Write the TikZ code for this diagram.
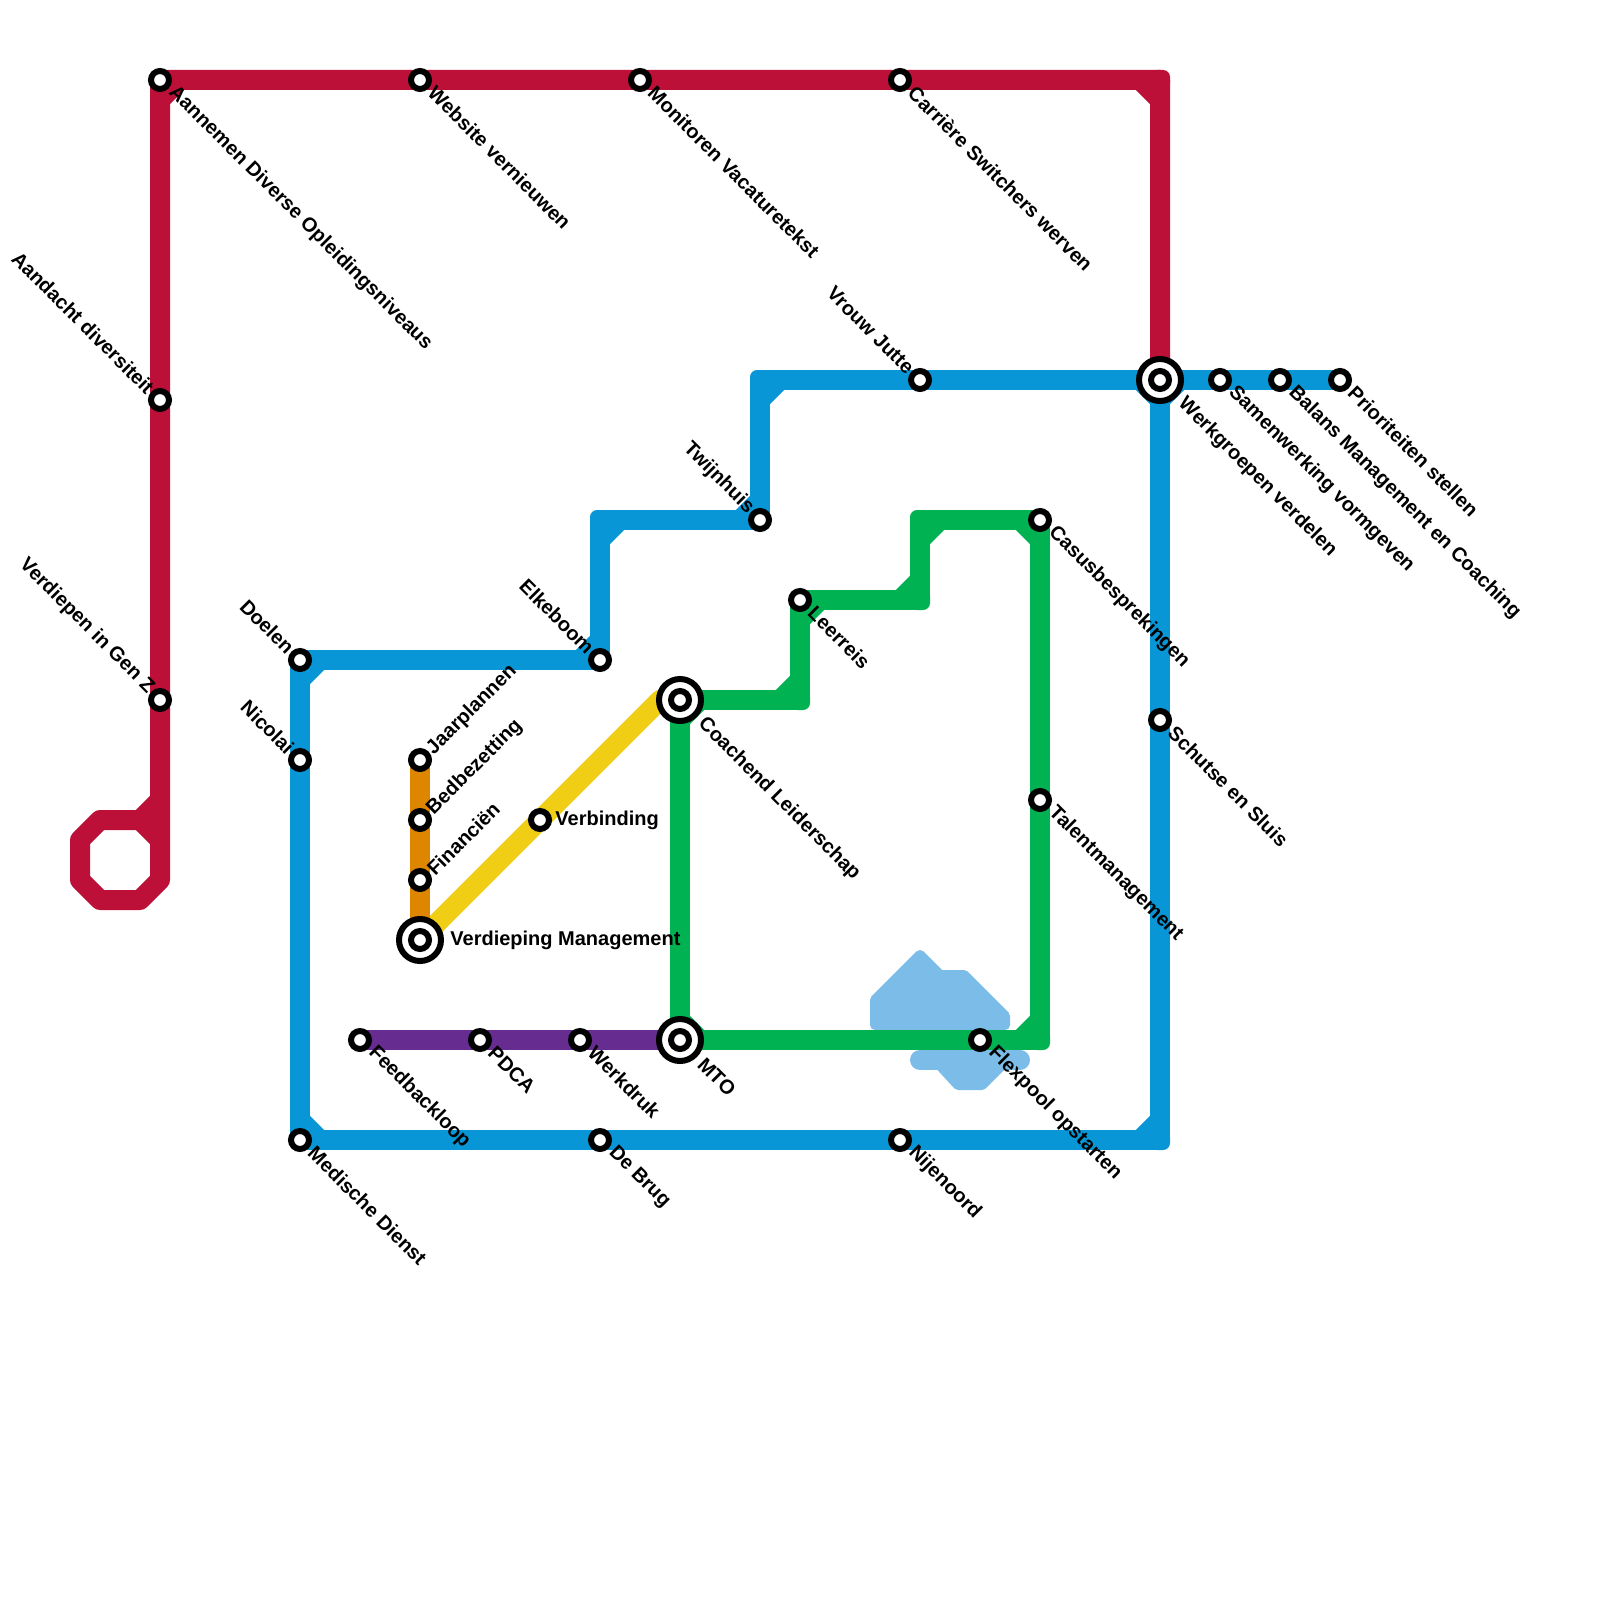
\documentclass[tikz,border=0pt]{standalone}
\usepackage{fontspec}
\setmainfont{Liberation Sans}
\usetikzlibrary{positioning,backgrounds}
\definecolor{MetroRed}{HTML}{BD1038}
\definecolor{MetroBlue}{HTML}{0896D7}
\definecolor{MetroGreen}{HTML}{00B251}
\definecolor{MetroYellow}{HTML}{F0CE15}
\definecolor{MetroOrange}{HTML}{DF8600}
\definecolor{MetroPurple}{HTML}{662C90}
\definecolor{MetroWater}{HTML}{7CBCE8}

\begin{document}
\begin{tikzpicture}[
  x=0.5pt, y=-0.5pt,
  on grid,
  stop/.style={circle, draw=black, fill=white, line width=3pt, inner sep=0pt, outer sep=0pt, minimum size=9pt},
  hub/.style={stop, minimum size=21pt},
  track/.style={line width=10pt, line join=round},
  turn/.style={rectangle, rounded corners=3.5pt, inner sep=0pt, outer sep=0pt, minimum size=10pt},
  water/.style={draw=MetroWater, fill=MetroWater, line width=5pt, line join=round},
  lab/.style={font=\bfseries\fontsize{10}{12}\selectfont, inner sep=0pt, text=black},
  downlab/.style={lab, shift={(11.5,9.5)}, rotate=-45, anchor=west},
  hubdownlab/.style={lab, shift={(21,21)}, rotate=-45, anchor=west},
  uplab/.style={lab, shift={(-9,-9.5)}, rotate=-45, anchor=east},
  risinglab/.style={lab, shift={(10,-8)}, rotate=45, anchor=west}
]
  \useasboundingbox (0,0) rectangle (1600,1600);

  % red line
  \node[stop] (aannemen) at (160,80) {};
  \node[stop, right=130pt of aannemen] (website) {};
  \node[stop, right=110pt of website] (monitoren) {};
  \node[stop, right=130pt of monitoren] (carriere) {};
  \node[stop, below=160pt of aannemen] (aandacht) {};
  \node[stop, below=150pt of aandacht] (genz) {};
  \coordinate (loopstart) at (160,880);

  % blue line
  \node[hub] (werkgroepen) at (1160,380) {};
  \node[stop] (werkgroepencore) at (werkgroepen) {};
  \node[stop, right=30pt of werkgroepen] (samenwerking) {};
  \node[stop, right=30pt of samenwerking] (balans) {};
  \node[stop, right=30pt of balans] (prioriteiten) {};
  \node[stop, below=170pt of werkgroepen] (schutse) {};
  \node[stop, left=120pt of werkgroepen] (jutte) {};
  \node[stop] (twijnhuis) at (760,520) {};
  \node[stop] (elkeboom) at (600,660) {};
  \node[stop, left=150pt of elkeboom] (doelen) {};
  \node[stop, below=50pt of doelen] (nicolai) {};
  \node[stop, below=190pt of nicolai] (medisch) {};
  \node[stop, right=150pt of medisch] (debrug) {};
  \node[stop, right=150pt of debrug] (nijenoord) {};

  % green line
  \node[hub] (coachend) at (680,700) {};
  \node[stop] (coachendcore) at (coachend) {};
  \node[hub, below=170pt of coachend] (mto) {};
  \node[stop] (mtocore) at (mto) {};
  \node[stop] (leerreis) at (800,600) {};
  \node[stop] (casus) at (1040,520) {};
  \node[stop, below=140pt of casus] (talent) {};
  \node[stop] (flexpool) at (980,1040) {};

  % orange and yellow lines
  \node[hub] (verdieping) at (420,940) {};
  \node[stop] (verdiepingcore) at (verdieping) {};
  \node[stop, above=30pt of verdieping] (financien) {};
  \node[stop, above=30pt of financien] (bedbezetting) {};
  \node[stop, above=30pt of bedbezetting] (jaarplannen) {};
  \node[stop] (verbinding) at (540,820) {};
  \coordinate (yellowend) at (660,700);

  % purple line
  \node[stop, left=50pt of mto] (werkdruk) {};
  \node[stop, left=50pt of werkdruk] (pdca) {};
  \node[stop, left=60pt of pdca] (feedback) {};

  \begin{scope}[on background layer]
    \filldraw[water] (875,1025) -- (875,1000) -- (920,955) -- (940,975) -- (964,975) -- (1005,1016) -- (1005,1025) -- cycle;
    \filldraw[water] (935,1060) -- (958,1085) -- (982,1085) -- (1005,1062) -- (1005,1055) -- (935,1055) -- cycle;
    \draw[MetroWater, line width=10pt, line cap=round] (920,1060) -- (1020,1060);

    \node[turn, fill=MetroRed] (redcorner) at (1160,80) {};
    \node[turn, fill=MetroBlue] (bluecornerjutte) at (760,380) {};
    \node[turn, fill=MetroBlue] (bluecornerstep) at (600,520) {};
    \node[turn, fill=MetroBlue] (bluecornerend) at (1160,1140) {};
    \node[turn, fill=MetroGreen] (greencornera) at (800,700) {};
    \node[turn, fill=MetroGreen] (greencornerb) at (920,600) {};
    \node[turn, fill=MetroGreen] (greencornerc) at (920,520) {};
    \node[turn, fill=MetroGreen] (greencornerd) at (1040,1040) {};

    \draw[track, MetroRed] (werkgroepen.center) -- (redcorner.center) -- (carriere.center) -- (monitoren.center) -- (website.center) -- (aannemen.center) -- (aandacht.center) -- (genz.center) -- (loopstart)
      -- ++(-20,20) -- ++(-40,0) -- ++(-20,-20) -- ++(0,-40) -- ++(20,-20) -- ++(60,0) ++(-20,0) -- ++(20,-20);
    \draw[track, MetroRed] (redcorner.center) ++(-20,0) -- ++(20,20);
    \draw[track, MetroRed] (loopstart) ++(-20,-60) -- ++(20,20);
    \draw[track, MetroRed] (aannemen.center) ++(0,20) -- ++(20,-20);

    \draw[track, MetroBlue] (prioriteiten.center) -- (balans.center) -- (samenwerking.center) -- (werkgroepen.center) -- (jutte.center) -- (bluecornerjutte.center) -- (twijnhuis.center) -- (bluecornerstep.center) -- (elkeboom.center) -- (doelen.center) -- (nicolai.center) -- (medisch.center) -- (debrug.center) -- (nijenoord.center) -- (bluecornerend.center) -- (schutse.center) -- (werkgroepen.center);
    \draw[track, MetroBlue] (bluecornerjutte.center) ++(0,20) -- ++(20,-20);
    \draw[track, MetroBlue] (bluecornerstep.center) ++(0,20) -- ++(20,-20);
    \draw[track, MetroBlue] (twijnhuis.center) ++(-20,0) -- ++(20,-20);
    \draw[track, MetroBlue] (elkeboom.center) ++(-20,0) -- ++(20,-20);
    \draw[track, MetroBlue] (doelen.center) ++(0,20) -- ++(20,-20);
    \draw[track, MetroBlue] (medisch.center) ++(0,-20) -- ++(20,20);
    \draw[track, MetroBlue] (bluecornerend.center) ++(-20,0) -- ++(20,-20);
    \draw[track, MetroBlue] (werkgroepen.center) ++(-20,0) -- ++(20,20) -- ++(20,-20);

    \draw[track, MetroGreen] (coachend.center) -- (greencornera.center) -- (leerreis.center) -- (greencornerb.center) -- (greencornerc.center) -- (casus.center) -- (talent.center) -- (greencornerd.center) -- (flexpool.center) -- (mto.center) -- (coachend.center);
    \draw[track, MetroGreen] (greencornera.center) ++(-20,0) -- ++(20,-20);
    \draw[track, MetroGreen] (leerreis.center) ++(0,20) -- ++(20,-20);
    \draw[track, MetroGreen] (greencornerb.center) ++(-20,0) -- ++(20,-20);
    \draw[track, MetroGreen] (greencornerc.center) ++(0,20) -- ++(20,-20);
    \draw[track, MetroGreen] (casus.center) ++(-20,0) -- ++(20,20);
    \draw[track, MetroGreen] (greencornerd.center) ++(-20,0) -- ++(20,-20);
    \draw[track, MetroGreen] (coachend.center) ++(0,20) -- ++(20,-20);
    \draw[track, MetroGreen] (mto.center) ++(0,-20) -- ++(20,20);

    \draw[track, MetroYellow] (verdieping.center) -- (verbinding.center) -- (yellowend) -- (coachend.center);
    \draw[track, MetroOrange] (jaarplannen.center) -- (bedbezetting.center) -- (financien.center) -- (verdieping.center);
    \draw[track, MetroPurple] (feedback.center) -- (pdca.center) -- (werkdruk.center) -- (mto.center);
  \end{scope}

  % labels
  \node[downlab] (aannemenlabel) at (aannemen) {Aannemen Diverse Opleidingsniveaus};
  \node[downlab] (websitelabel) at (website) {Website vernieuwen};
  \node[downlab] (monitorenlabel) at (monitoren) {Monitoren Vacaturetekst};
  \node[downlab] (carrierelabel) at (carriere) {Carrière Switchers werven};
  \node[uplab] (aandachtlabel) at (aandacht) {Aandacht diversiteit};
  \node[uplab] (genzlabel) at (genz) {Verdiepen in Gen Z};
  \node[hubdownlab] (werkgroepenlabel) at (werkgroepen) {Werkgroepen verdelen};
  \node[downlab] (samenwerkinglabel) at (samenwerking) {Samenwerking vormgeven};
  \node[downlab] (balanslabel) at (balans) {Balans Management en Coaching};
  \node[downlab] (prioriteitenlabel) at (prioriteiten) {Prioriteiten stellen};
  \node[downlab] (schutselabel) at (schutse) {Schutse en Sluis};
  \node[uplab] (juttelabel) at (jutte) {Vrouw Jutte};
  \node[uplab] (twijnhuislabel) at (twijnhuis) {Twijnhuis};
  \node[uplab] (elkeboomlabel) at (elkeboom) {Elkeboom};
  \node[uplab] (doelenlabel) at (doelen) {Doelen};
  \node[uplab] (nicolailabel) at (nicolai) {Nicolai};
  \node[downlab] (medischlabel) at (medisch) {Medische Dienst};
  \node[downlab] (debruglabel) at (debrug) {De Brug};
  \node[downlab] (nijenoordlabel) at (nijenoord) {Nijenoord};
  \node[hubdownlab] (coachendlabel) at (coachend) {Coachend Leiderschap};
  \node[hubdownlab] (mtolabel) at (mto) {MTO};
  \node[downlab] (leerreislabel) at (leerreis) {Leerreis};
  \node[downlab] (casuslabel) at (casus) {Casusbesprekingen};
  \node[downlab] (talentlabel) at (talent) {Talentmanagement};
  \node[downlab] (flexpoollabel) at (flexpool) {Flexpool opstarten};
  \node[risinglab] (jaarplannenlabel) at (jaarplannen) {Jaarplannen};
  \node[risinglab] (bedbezettinglabel) at (bedbezetting) {Bedbezetting};
  \node[risinglab] (financienlabel) at (financien) {Financiën};
  \node[lab, anchor=west, xshift=7.5pt] (verbindinglabel) at (verbinding) {Verbinding};
  \node[lab, anchor=west, xshift=15pt] (verdiepinglabel) at (verdieping) {Verdieping Management};
  \node[downlab] (feedbacklabel) at (feedback) {Feedbackloop};
  \node[downlab] (pdcalabel) at (pdca) {PDCA};
  \node[downlab] (werkdruklabel) at (werkdruk) {Werkdruk};
\end{tikzpicture}
\end{document}
